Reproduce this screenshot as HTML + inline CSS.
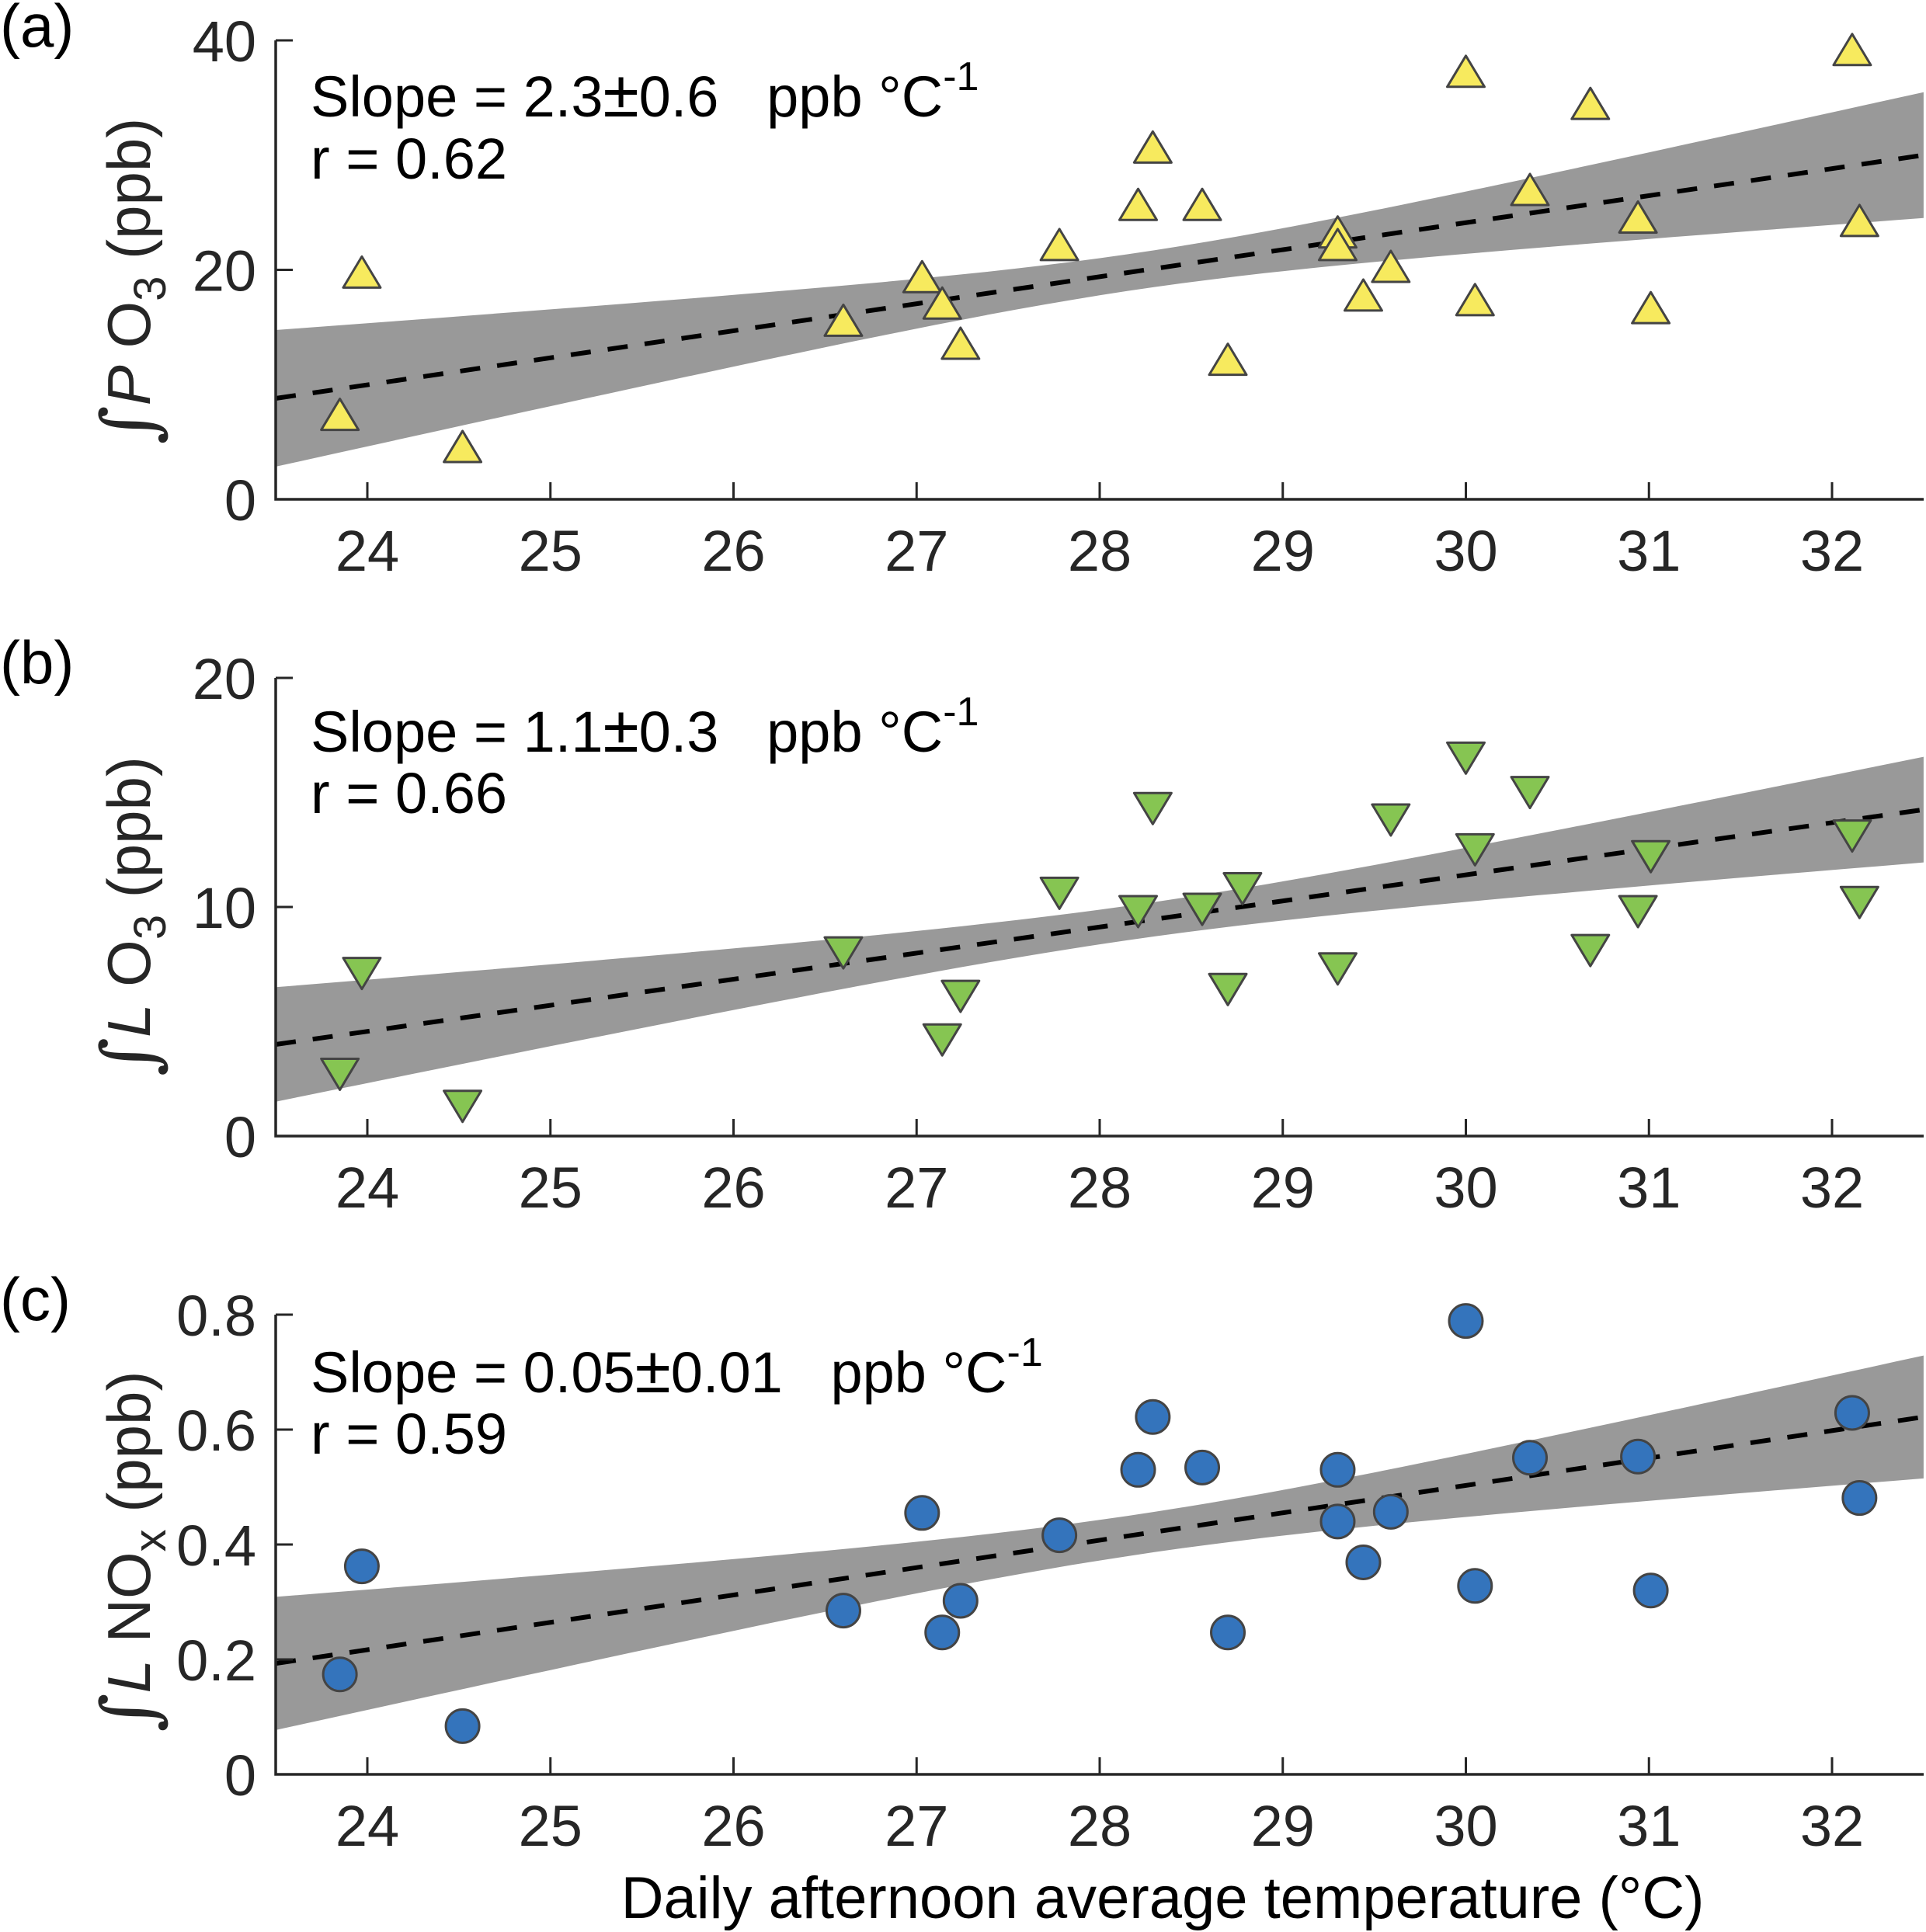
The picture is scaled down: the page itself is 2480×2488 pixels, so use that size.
<!DOCTYPE html>
<html><head><meta charset="utf-8"><style>
html,body{margin:0;padding:0;background:#fff;}
svg{display:block;font-family:"Liberation Sans",sans-serif;}
</style></head><body>
<svg id="fig" width="2480" height="2488" viewBox="0 0 2480 2488" xmlns="http://www.w3.org/2000/svg"></svg>
<script>
// ----- data -----
const xTicks = [24,25,26,27,28,29,30,31,32];
const tempA = [23.85,23.97,24.52,26.60,27.03,27.14,27.24,27.78,28.21,28.29,28.56,28.70,29.30,29.30,29.44,29.59,30.00,30.05,30.35,30.68,30.94,31.01,32.11,32.15];
const pO3 = [7.0,19.4,4.2,15.2,19.0,16.7,13.2,21.8,25.3,30.3,25.3,11.8,22.9,21.8,17.4,19.9,36.9,17.0,26.6,34.1,24.2,16.3,38.8,23.9];
const tempB = [23.85,23.97,24.52,26.60,27.14,27.24,27.78,28.21,28.29,28.56,28.70,28.78,29.30,29.59,30.00,30.05,30.35,30.68,30.94,31.01,32.11,32.15];
const lO3 = [2.9,7.3,1.5,8.2,4.4,6.3,10.8,10.0,14.5,10.1,6.6,11.0,7.5,14.0,16.7,12.7,15.2,8.3,10.0,12.4,13.3,10.4];
const tempC = [23.85,23.97,24.52,26.60,27.03,27.14,27.24,27.78,28.21,28.29,28.56,28.70,29.30,29.30,29.44,29.59,30.00,30.05,30.35,30.94,31.01,32.11,32.15];
const lNOx = [0.174,0.362,0.084,0.285,0.455,0.247,0.302,0.416,0.530,0.622,0.534,0.247,0.530,0.440,0.369,0.457,0.789,0.328,0.551,0.553,0.320,0.629,0.481];
const yTicksA = [0,20,40];
const yTicksB = [0,10,20];
const yTicksC = [0,0.2,0.4,0.6,0.8];
const fitA = [8.8,30.0];   // fit value at 23.5 and 32.5
const fitB = [4.0,14.25];
const fitC = [0.193,0.622];
const bandA = [1.6,1.22,28.2];   // min half-width, growth, centre temp
const bandB = [0.75,0.507,28.2];
const bandC = [0.035,0.0235,28.2];

const NS = "http://www.w3.org/2000/svg";
const svg = document.getElementById('fig');
function el(tag, attrs, parent){const e=document.createElementNS(NS,tag);for(const k in attrs)e.setAttribute(k,attrs[k]);(parent||svg).appendChild(e);return e;}

const X0=355, X1=2477, T0=23.5, T1=32.5;
function xs(t){return 473 + (t-24)*235.75;}

function panel(cfg){
  const g = el('g',{});
  
  
  const ys = v => cfg.bot - (v-cfg.ymin)/(cfg.ymax-cfg.ymin)*(cfg.bot-cfg.top);
  const up=[],lo=[];
  for(let i=0;i<=60;i++){
    const t=T0+(T1-T0)*i/60;
    const f=cfg.fit[0]+(cfg.fit[1]-cfg.fit[0])*(t-T0)/(T1-T0);
    const hw=Math.sqrt(cfg.band[0]*cfg.band[0]+cfg.band[1]*cfg.band[1]*(t-cfg.band[2])*(t-cfg.band[2]));
    up.push(xs(t).toFixed(1)+','+ys(f+hw).toFixed(1));
    lo.unshift(xs(t).toFixed(1)+','+ys(f-hw).toFixed(1));
  }
  const band=el('polygon',{points:up.concat(lo).join(' '),fill:'#999999'},g);
  
  
  const line=el('line',{x1:xs(T0),y1:ys(cfg.fit[0]),x2:xs(T1),y2:ys(cfg.fit[1]),stroke:'#000','stroke-width':6,'stroke-dasharray':'26 22'},g);
  
  
  cfg.xd.forEach((t,i)=>{
    const cx=xs(t), cy=ys(cfg.yd[i]);
    let m;
    if(cfg.marker==='up'){
      m=el('polygon',{points:`${cx},${cy-26} ${cx-24},${cy+14} ${cx+24},${cy+14}`,fill:cfg.color,stroke:'#444','stroke-width':3,'stroke-linejoin':'round'},g);
    }else if(cfg.marker==='down'){
      m=el('polygon',{points:`${cx},${cy+26} ${cx-24},${cy-14} ${cx+24},${cy-14}`,fill:cfg.color,stroke:'#444','stroke-width':3,'stroke-linejoin':'round'},g);
    }else{
      m=el('ellipse',{cx:cx,cy:cy,rx:21.5,ry:21.5,fill:cfg.color,stroke:'#444','stroke-width':3},g);
    }
    
    
  });
  const ax=el('path',{d:`M${X0},${cfg.top} V${cfg.bot} H${X1}`,fill:'none',stroke:'#262626','stroke-width':3.5},g);
  
  
  xTicks.forEach(t=>{
    const x=xs(t);
    el('line',{x1:x,y1:cfg.bot,x2:x,y2:cfg.bot-22,stroke:'#262626','stroke-width':3},g);
    const tx=el('text',{x:x,y:cfg.bot+92,'font-size':74,'text-anchor':'middle',fill:'#262626'},g);
    tx.textContent=t;
    
    
  });
  cfg.yt.forEach(v=>{
    const y=ys(v);
    el('line',{x1:X0,y1:y,x2:X0+22,y2:y,stroke:'#262626','stroke-width':3},g);
    const tx=el('text',{x:330,y:y+27,'font-size':74,'text-anchor':'end',fill:'#262626'},g);
    tx.textContent=v;
    
    
  });
  return g;
}

panel({name:'panel-a',top:52,bot:643,ymin:0,ymax:40,xd:tempA,yd:pO3,yt:yTicksA,fit:fitA,band:bandA,marker:'up',color:'#f7ea5e'});
panel({name:'panel-b',top:873,bot:1463,ymin:0,ymax:20,xd:tempB,yd:lO3,yt:yTicksB,fit:fitB,band:bandB,marker:'down',color:'#86c552'});
panel({name:'panel-c',top:1693,bot:2285,ymin:0,ymax:0.8,xd:tempC,yd:lNOx,yt:yTicksC,fit:fitC,band:bandC,marker:'circle',color:'#3474bc'});
</script>
<script>
(function(){
const svg=document.getElementById('fig');
svg.insertAdjacentHTML('beforeend',`
<text x="0" y="60" font-size="78" fill="#000">(a)</text>
<text x="0" y="880" font-size="78" fill="#000">(b)</text>
<text x="0" y="1700" font-size="78" fill="#000">(c)</text>
<text x="400" y="150" font-size="74" fill="#000">Slope = 2.3<tspan font-size="84">±</tspan>0.6&#160;&#160;&#160;ppb °C<tspan dy="-34" font-size="52">-1</tspan></text>
<text x="400" y="230" font-size="74" fill="#000">r = 0.62</text>
<text x="400" y="968" font-size="74" fill="#000">Slope = 1.1<tspan font-size="84">±</tspan>0.3&#160;&#160;&#160;ppb °C<tspan dy="-34" font-size="52">-1</tspan></text>
<text x="400" y="1047" font-size="74" fill="#000">r = 0.66</text>
<text x="400" y="1793" font-size="74" fill="#000">Slope = 0.05<tspan font-size="84">±</tspan>0.01&#160;&#160;&#160;ppb °C<tspan dy="-34" font-size="52">-1</tspan></text>
<text x="400" y="1872" font-size="74" fill="#000">r = 0.59</text>
<text transform="translate(193,362) rotate(-90)" text-anchor="middle" font-size="78" fill="#262626"><tspan font-family="DejaVu Serif, serif" font-size="96" dy="6">∫</tspan><tspan dy="-6" font-style="italic">P</tspan> O<tspan dy="20" font-size="58">3</tspan><tspan dy="-20"> (ppb)</tspan></text>
<text transform="translate(193,1180) rotate(-90)" text-anchor="middle" font-size="78" fill="#262626"><tspan font-family="DejaVu Serif, serif" font-size="96" dy="6">∫</tspan><tspan dy="-6" font-style="italic">L</tspan> O<tspan dy="20" font-size="58">3</tspan><tspan dy="-20"> (ppb)</tspan></text>
<text transform="translate(193,1998) rotate(-90)" text-anchor="middle" font-size="78" fill="#262626"><tspan font-family="DejaVu Serif, serif" font-size="96" dy="6">∫</tspan><tspan dy="-6" font-style="italic">L</tspan> NO<tspan dy="20" font-size="58">x</tspan><tspan dy="-20"> (ppb)</tspan></text>
<text x="1497" y="2470" text-anchor="middle" font-size="76" fill="#000">Daily afternoon average temperature (°C)</text>
`);
})();
</script>
</body></html>
